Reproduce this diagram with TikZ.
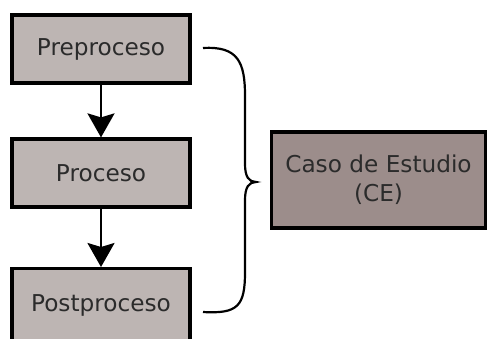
\documentclass[tikz,border=0pt]{standalone}
\usepackage{fontspec}
\setmainfont{DejaVu Sans}
\usepackage{tikz}
\usetikzlibrary{arrows.meta}

\definecolor{etapa}{HTML}{BDB5B3}
\definecolor{caso}{HTML}{9C8D8B}
\definecolor{texto}{HTML}{2B2B2B}

\tikzset{
  etapa/.style={draw=black,line width=1.6pt,fill=etapa,text=texto,minimum width=89pt,minimum height=34pt,inner sep=0pt},
  flecha/.style={line width=1.2pt,-{Stealth[length=12pt,width=13.5pt,inset=2pt]}}
}

\begin{document}
\begin{tikzpicture}[x=0.5pt,y=-0.5pt,font=\fontsize{11.6}{14.5}\selectfont]
      \useasboundingbox (0,0) rectangle (488,338);
      \clip (0,0) rectangle (488,338);
      \node[etapa] (pre) at (101,49) {Preproceso};
      \node[etapa] (pro) at (101,173) {Proceso};
      \node[etapa,minimum height=37pt,anchor=north] (post) at (101,267) {Postproceso};
      \draw[flecha] (pre) -- (pro);
      \draw[flecha] (pro) -- (post);
      % llave que agrupa las tres etapas
      \draw[line width=1.1pt] (203,48) .. controls (238,46) and (245,62) .. (245,96) -- (245,164)
        .. controls (245,177) and (249,182) .. (256,182)
        .. controls (249,182) and (245,187) .. (245,200) -- (245,272)
        .. controls (245,306) and (238,314) .. (203,312);
      \node[etapa,fill=caso,minimum width=107pt,minimum height=48pt,align=center] (ce) at (378.5,180) {Caso de Estudio\\(CE)};
    \end{tikzpicture}
\end{document}
